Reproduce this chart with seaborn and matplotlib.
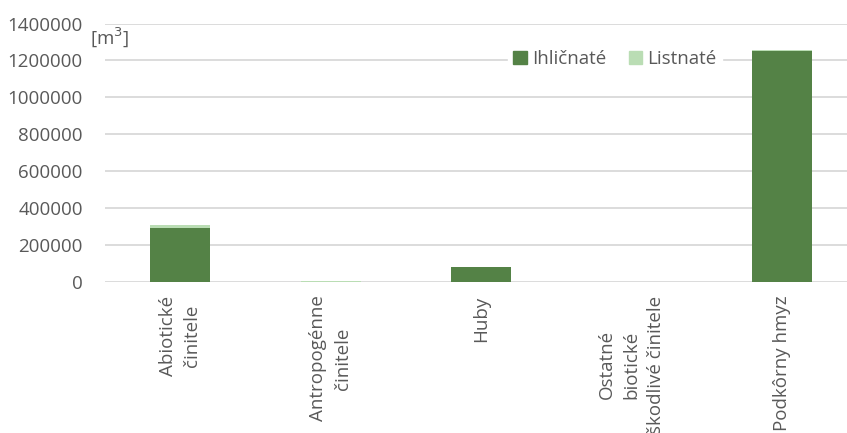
import matplotlib
matplotlib.use("Agg")
import matplotlib.pyplot as plt
import seaborn as sns
import pandas as pd
from matplotlib.patches import Patch

categories = ["Abiotické\nčinitele", "Antropogénne\nčinitele", "Huby",
              "Ostatné\nbiotické\nškodlivé činitele", "Podkôrny hmyz"]
ihlicnate = [293000, 800, 81000, 300, 1253000]
listnate = [14000, 300, 500, 100, 800]
yticks = [0, 200000, 400000, 600000, 800000, 1000000, 1200000, 1400000]

dark = "#548246"
light = "#BADDB4"
gray = "#595959"

sns.set_theme(style="white")
plt.rcParams['font.family'] = ['Open Sans', 'DejaVu Sans']

df = pd.DataFrame({"cat": categories, "Ihličnaté": ihlicnate, "Listnaté": listnate})
df["total"] = df["Ihličnaté"] + df["Listnaté"]

fig = plt.figure(figsize=(8.47, 4.33), dpi=100)
ax = fig.add_axes([105/847, (433-281.7)/433, 752/847, 258.2/433])

sns.barplot(data=df, x="cat", y="total", color=light, width=0.4, saturation=1,
            linewidth=0, ax=ax)
sns.barplot(data=df, x="cat", y="Ihličnaté", color=dark, width=0.4, saturation=1,
            linewidth=0, ax=ax)

ax.set_ylim(0, 1400000)
ax.set_xlim(-0.5, 4.5)
ax.set_yticks(yticks)
ax.set_yticklabels([str(v) for v in yticks])
ax.yaxis.grid(True, color="#D9D9D9", linewidth=1.3)
ax.set_axisbelow(True)
for s in ax.spines.values():
    s.set_visible(False)
ax.set_xlabel("")
ax.set_ylabel("")
ax.tick_params(axis="y", length=0, pad=16, labelsize=13.5, labelcolor=gray)
ax.tick_params(axis="x", length=0, pad=10, labelsize=13.5, labelcolor=gray)
ax.set_xticks(range(len(categories)))
ax.set_xticklabels(categories, rotation=90, ha="center", va="top", multialignment="center",
                   linespacing=1.45)

fig.text(90/847, 1-37/433, "[m$^3$]", fontsize=13.5, color=gray, ha="left", va="center")

handles = [Patch(facecolor=dark, edgecolor=dark), Patch(facecolor=light, edgecolor=light)]
leg = fig.legend(handles, ["Ihličnaté", "Listnaté"], ncol=2, loc="center",
                 bbox_to_anchor=(615/847, 1-59/433), frameon=True, fancybox=False,
                 facecolor="white", edgecolor="white", framealpha=1,
                 handlelength=0.7, handleheight=0.7, handletextpad=0.3,
                 columnspacing=1.18, fontsize=13.5, borderpad=0.3)
for t in leg.get_texts():
    t.set_color(gray)

fig.savefig("out.png", dpi=100)
